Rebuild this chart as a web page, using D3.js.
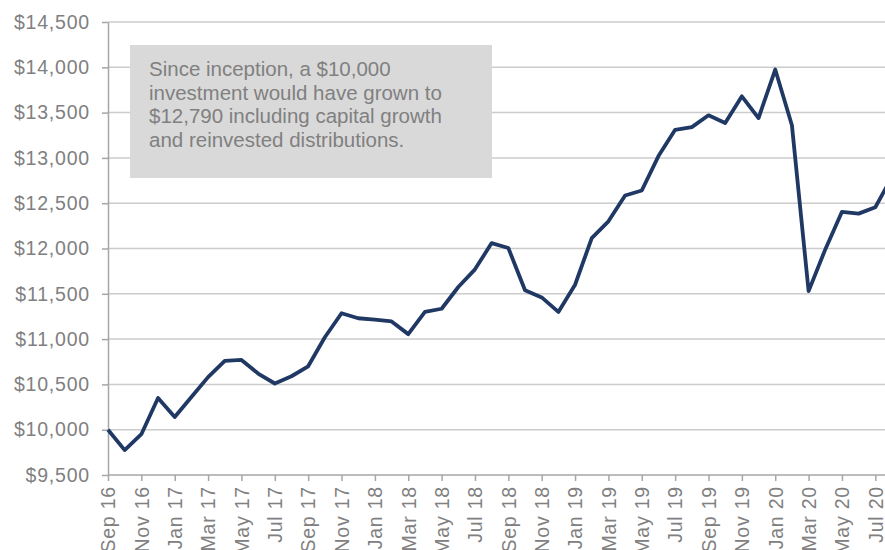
<!DOCTYPE html>
<html lang="en">
<head>
    <meta charset="UTF-8">
    <title>Growth of $10,000</title>
    <script src="https://cdn.jsdelivr.net/npm/d3@7/dist/d3.min.js"></script>
    <style>
        body { margin: 0; background: #fff; }
        svg { display: block; font-family: "Liberation Sans", Arial, sans-serif; }
        .axis text { fill: #808080; font-size: 19.5px; letter-spacing: 0.8px; }
        .axis path, .axis line { stroke: #a6a6a6; stroke-width: 1.5px; }
        .grid line { stroke: #cccccc; stroke-width: 1.5px; }
        .note { fill: #808080; font-size: 20.5px; }
    </style>
</head>
<body>
<svg width="885" height="550"></svg>
<script>
    // month labels and fund value (start $10,000)
    const months = [
        "Sep 16", "Oct 16", "Nov 16", "Dec 16",
        "Jan 17", "Feb 17", "Mar 17", "Apr 17", "May 17", "Jun 17", "Jul 17", "Aug 17", "Sep 17", "Oct 17", "Nov 17", "Dec 17",
        "Jan 18", "Feb 18", "Mar 18", "Apr 18", "May 18", "Jun 18", "Jul 18", "Aug 18", "Sep 18", "Oct 18", "Nov 18", "Dec 18",
        "Jan 19", "Feb 19", "Mar 19", "Apr 19", "May 19", "Jun 19", "Jul 19", "Aug 19", "Sep 19", "Oct 19", "Nov 19", "Dec 19",
        "Jan 20", "Feb 20", "Mar 20", "Apr 20", "May 20", "Jun 20", "Jul 20", "Aug 20"
    ];
    const values = [
        10000, 9775, 9950, 10350,
        10140, 10360, 10580, 10760, 10770, 10620, 10510, 10590, 10700, 11020, 11285, 11230,
        11215, 11195, 11055, 11300, 11335, 11575, 11770, 12060, 12005, 11540, 11460, 11300,
        11600, 12115, 12300, 12585, 12640, 13020, 13310, 13340, 13470, 13385, 13680, 13440,
        13975, 13360, 11530, 11990, 12405, 12385, 12455, 12790
    ];
    const xTickLabels = ["Sep 16", "Nov 16", "Jan 17", "Mar 17", "May 17", "Jul 17", "Sep 17", "Nov 17",
        "Jan 18", "Mar 18", "May 18", "Jul 18", "Sep 18", "Nov 18", "Jan 19", "Mar 19", "May 19", "Jul 19",
        "Sep 19", "Nov 19", "Jan 20", "Mar 20", "May 20", "Jul 20"];
    const yTicks = [9500, 10000, 10500, 11000, 11500, 12000, 12500, 13000, 13500, 14000, 14500];
    const noteLines = [
        "Since inception, a $10,000",
        "investment would have grown to",
        "$12,790 including capital growth",
        "and reinvested distributions."
    ];

    const svg = d3.select("svg");
    const W = 885;
    const plotLeft = 108, plotTop = 22, plotBottom = 475;

    // last month sits just past the window edge, like the original
    const x = d3.scalePoint().domain(months).range([plotLeft, 892]);
    const y = d3.scaleLinear().domain([9500, 14500]).range([plotBottom, plotTop]);

    // gridlines
    svg.append("g").attr("class", "grid")
        .selectAll("line")
        .data(yTicks.slice(1))
        .enter().append("line")
        .attr("x1", plotLeft).attr("x2", W)
        .attr("y1", d => y(d)).attr("y2", d => y(d));

    // y axis
    svg.append("g").attr("class", "axis")
        .attr("transform", `translate(${plotLeft},0)`)
        .call(d3.axisLeft(y).tickValues(yTicks).tickSize(6).tickSizeOuter(0).tickPadding(12)
            .tickFormat(d => "$" + d3.format(",")(d)));

    // x axis
    const xAxis = svg.append("g").attr("class", "axis")
        .attr("transform", `translate(0,${plotBottom})`)
        .call(d3.axisBottom(x).tickValues(xTickLabels).tickSize(6).tickSizeOuter(0));
    xAxis.select(".domain").attr("d", `M${plotLeft},0H${W}`);
    xAxis.selectAll("text")
        .attr("transform", "rotate(-90)")
        .attr("text-anchor", "end")
        .attr("x", -11).attr("y", 0).attr("dy", "0.35em");

    // note box
    svg.append("rect")
        .attr("x", 130).attr("y", 45).attr("width", 362).attr("height", 133)
        .attr("fill", "#d9d9d9");
    svg.append("g").selectAll("text")
        .data(noteLines)
        .enter().append("text")
        .attr("class", "note")
        .attr("x", 149)
        .attr("y", (d, i) => 76 + i * 23.5)
        .text(d => d);

    // growth line
    const line = d3.line()
        .x((d, i) => x(months[i]))
        .y(d => y(d));
    svg.append("path")
        .datum(values)
        .attr("d", line)
        .attr("fill", "none")
        .attr("stroke", "#203864")
        .attr("stroke-width", 3.8)
        .attr("stroke-linejoin", "round");
</script>
</body>
</html>
